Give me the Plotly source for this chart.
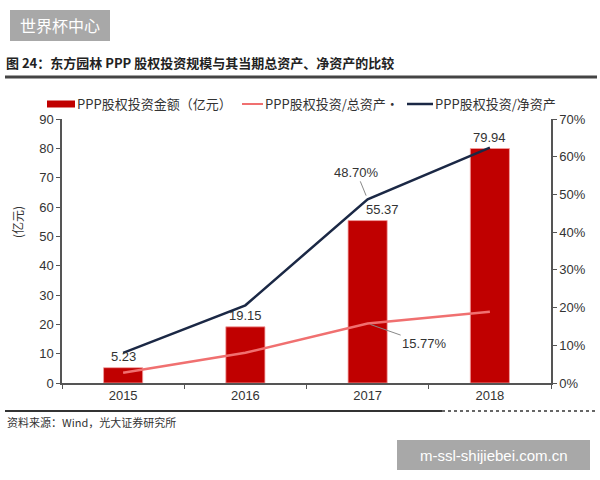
import plotly.graph_objects as go

years = ["2015", "2016", "2017", "2018"]
invest = [5.23, 19.15, 55.37, 79.94]            # 亿元
ratio_total = [2.7, 8.0, 15.77, 18.9]           # % of total assets
ratio_net = [8.0, 20.6, 48.70, 62.4]            # % of net assets

left_ticks = [0, 10, 20, 30, 40, 50, 60, 70, 80, 90]
right_ticks = [0, 10, 20, 30, 40, 50, 60, 70]
right_labels = [f"{v}%" for v in right_ticks]

W, H = 600, 480
L, R, T, B = 62, 49, 119, 97
PW, PH = W - L - R, H - T - B

def px(x):
    return (x - L) / PW

def py(y):
    return 1 - (y - T) / PH

FONT = "Liberation Sans, Arial, Noto Sans CJK SC, sans-serif"
CJK = "Noto Sans CJK SC, Liberation Sans, sans-serif"
BAR_C = "#c00000"
RED_C = "#f07070"
NAVY_C = "#1b2845"
AX_C = "#555555"
TXT = "#333333"

fig = go.Figure()
fig.add_trace(go.Bar(x=years, y=invest, marker=dict(color=BAR_C, line=dict(color="#f2a0a0", width=0.8)),
                     name="PPP股权投资金额（亿元）", showlegend=False))
fig.add_trace(go.Scatter(x=years, y=ratio_total, mode="lines", yaxis="y2",
                         line=dict(color=RED_C, width=2.5), name="PPP股权投资/总资产", showlegend=False))
fig.add_trace(go.Scatter(x=years, y=ratio_net, mode="lines", yaxis="y2",
                         line=dict(color=NAVY_C, width=2.5), name="PPP股权投资/净资产", showlegend=False))

annotations = []
shapes = []

def note(x, y, text, size=12, family=CJK, color=TXT, xanchor="left", **kw):
    annotations.append(dict(x=px(x), y=py(y), xref="paper", yref="paper", text=text, showarrow=False,
                            xanchor=xanchor, yanchor="middle", font=dict(family=family, size=size, color=color), **kw))

# bar value labels (category index positions)
shift = {2: 15}
for i, v in enumerate(invest):
    annotations.append(dict(x=i, y=v, xref="x", yref="y", text=f"{v:.2f}", showarrow=False,
                            xanchor="center", yanchor="bottom", yshift=2, xshift=shift.get(i, 0),
                            font=dict(family=FONT, size=13, color=TXT)))

# leader labels
annotations.append(dict(x=2, y=ratio_net[2], xref="x", yref="y2", text=f"{ratio_net[2]:.2f}%",
                        showarrow=True, arrowhead=0, arrowwidth=1, arrowcolor="#888888",
                        ax=-11, ay=-27, standoff=4, font=dict(family=FONT, size=13, color=TXT)))
annotations.append(dict(x=2, y=ratio_total[2], xref="x", yref="y2", text=f"{ratio_total[2]:.2f}%",
                        showarrow=True, arrowhead=0, arrowwidth=1, arrowcolor="#888888",
                        ax=57, ay=20, standoff=3, font=dict(family=FONT, size=13, color=TXT)))

# y axis title
note(17, 222, "(亿元)", xanchor="center", textangle=-90)

# custom legend
leg_y = 104
shapes.append(dict(type="rect", xref="paper", yref="paper", x0=px(47), x1=px(75), y0=py(leg_y + 3.5), y1=py(leg_y - 3.5),
                   fillcolor=BAR_C, line=dict(width=0)))
note(75, leg_y, "PPP股权投资金额（亿元）", size=13)
shapes.append(dict(type="line", xref="paper", yref="paper", x0=px(242), x1=px(263), y0=py(leg_y), y1=py(leg_y),
                   line=dict(color=RED_C, width=2)))
note(263, leg_y, "PPP股权投资/总资产·", size=13)
shapes.append(dict(type="line", xref="paper", yref="paper", x0=px(407), x1=px(433), y0=py(leg_y), y1=py(leg_y),
                   line=dict(color=NAVY_C, width=2.5)))
note(433, leg_y, "PPP股权投资/净资产", size=13)

# title & underline
note(4, 62, "<b>图 24：东方园林 PPP 股权投资规模与其当期总资产、净资产的比较</b>", size=13, color="#222222")
shapes.append(dict(type="line", xref="paper", yref="paper", x0=px(5), x1=px(597), y0=py(77), y1=py(77),
                   line=dict(color="#444444", width=3)))

# source line & text
shapes.append(dict(type="line", xref="paper", yref="paper", x0=px(5), x1=px(442), y0=py(411), y1=py(411),
                   line=dict(color="#333333", width=2)))
shapes.append(dict(type="line", xref="paper", yref="paper", x0=px(442), x1=px(597), y0=py(411), y1=py(411),
                   line=dict(color="#666666", width=2, dash="dot")))
note(5, 422, "资料来源：Wind，光大证券研究所", size=11)

# watermark boxes
shapes.append(dict(type="rect", xref="paper", yref="paper", x0=px(10), x1=px(110), y0=py(41), y1=py(10),
                   fillcolor="#a8a8a8", line=dict(width=0)))
note(60, 25.5, "世界杯中心", size=16, color="#ffffff", xanchor="center")
shapes.append(dict(type="rect", xref="paper", yref="paper", x0=px(397), x1=px(590), y0=py(470), y1=py(440),
                   fillcolor="#a8a8a8", line=dict(width=0)))
note(493.5, 455, "m-ssl-shijiebei.com.cn", size=15, family=FONT, color="#ffffff", xanchor="center")

fig.update_layout(
    width=W, height=H,
    margin=dict(l=L, r=R, t=T, b=B, pad=0),
    paper_bgcolor="white", plot_bgcolor="white",
    bargap=0.68,
    font=dict(family=FONT, size=13, color=TXT),
    xaxis=dict(type="category", range=[-0.5, 3.5], showline=True, linecolor=AX_C, linewidth=1.5, ticks="outside",
               tickson="boundaries", ticklen=4, tickcolor=AX_C, showgrid=False, tickangle=0,
               tickfont=dict(family=FONT, size=13, color=TXT)),
    yaxis=dict(range=[0, 90], tickvals=left_ticks, showline=True, linecolor=AX_C, linewidth=1.5,
               ticks="outside", ticklen=4, tickcolor=AX_C, showgrid=False, zeroline=False,
               tickfont=dict(family=FONT, size=13, color=TXT)),
    yaxis2=dict(range=[0, 70], tickmode="array", tickvals=right_ticks, ticktext=right_labels,
                overlaying="y", side="right", anchor="x",
                showline=True, linecolor=AX_C, linewidth=1.5, ticks="outside", ticklen=4, tickcolor=AX_C,
                showgrid=False, zeroline=False, tickfont=dict(family=FONT, size=13, color=TXT)),
    annotations=annotations,
    shapes=shapes,
)

fig.write_html("out.html")
